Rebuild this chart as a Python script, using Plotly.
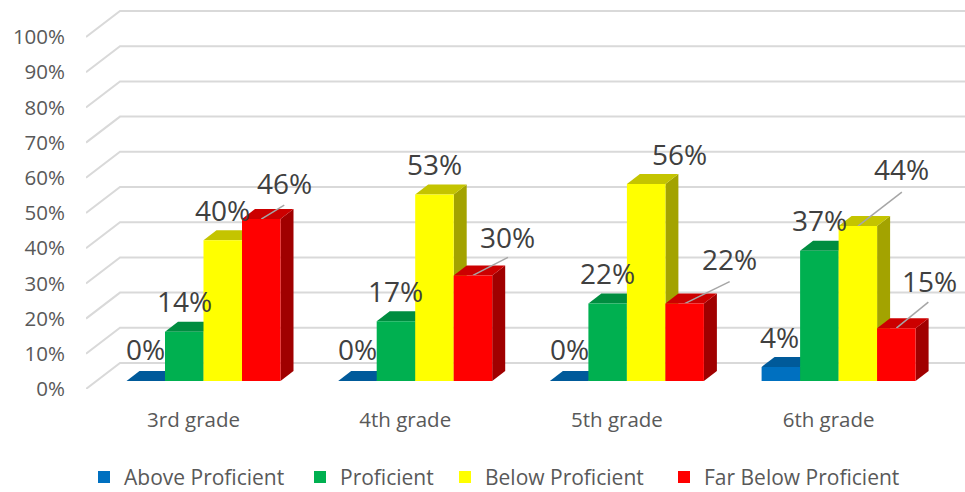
import plotly.graph_objects as go

categories = ["3rd grade", "4th grade", "5th grade", "6th grade"]
series_names = ["Above Proficient", "Proficient", "Below Proficient", "Far Below Proficient"]
above_proficient = [0, 0, 0, 4]
proficient = [14, 17, 22, 37]
below_proficient = [40, 53, 56, 44]
far_below_proficient = [46, 30, 22, 15]
y_ticks = [0, 10, 20, 30, 40, 50, 60, 70, 80, 90, 100]
y_tick_labels = ["0%", "10%", "20%", "30%", "40%", "50%", "60%", "70%", "80%", "90%", "100%"]

all_series = [above_proficient, proficient, below_proficient, far_below_proficient]
front_colors = ["#0070c0", "#00b050", "#ffff00", "#ff0000"]
top_colors = ["#005a9a", "#008d40", "#c4c400", "#cc0000"]
side_colors = ["#00467a", "#006e32", "#a3a300", "#a00000"]

# layout scale of the fake-3D projection
W, H = 965, 492
PX_X = 211.7          # pixels per category
PX_Y = 3.52           # pixels per percent
M_L, M_T, M_B = 86, 0, 103
X0_PX = 193.5         # pixel of category 0 on the axis
X_MIN = (M_L - X0_PX) / PX_X
X_MAX = (W - X0_PX) / PX_X
Y_MAX = (H - M_B - M_T) / PX_Y
BAR_SHIFT_Y = 8 / PX_Y      # bars stand this far behind the front of the floor
BAR_SHIFT_X = 10 / PX_X
BAR_W = 38.5 / PX_X
DEPTH_X, DEPTH_Y = 13 / PX_X, 10 / PX_Y
WALL_X, WALL_Y = 34 / PX_X, 26 / PX_Y

# label offsets in pixels from the top centre of each bar (series, then category)
label_dx = [[0, 0, 0, -1], [0, 0, 0, 0], [0, 0, 33, 44], [23, 35, 45, 33]]
label_dy = [[-32, -32, -32, -30], [-31, -30, -31, -31], [-30, -30, -30, -57], [-36, -38, -45, -47]]
# leader lines: (series, category, dx, dy) in pixels
leaders = [(3, 0, 23, -14), (3, 1, 35, -18), (3, 2, 45, -22), (2, 3, 44, -34), (3, 3, 32, -26)]
# left edge in pixels of each legend entry
legend_left_px = [84, 300, 445, 664]
LEGEND_IDS = ["legend", "legend2", "legend3", "legend4"]

fig = go.Figure()

# back wall gridlines
for v in y_ticks:
    fig.add_trace(go.Scatter(
        x=[X_MIN, X_MIN + WALL_X, X_MAX], y=[v, v + WALL_Y, v + WALL_Y],
        mode="lines", line=dict(color="#d9d9d9", width=2),
        showlegend=False, hoverinfo="skip"))


def bar_left(cat, s):
    return cat + BAR_SHIFT_X + (s - 2) * BAR_W


# side and top faces, painted behind the front faces
for s, values in enumerate(all_series):
    for c, v in enumerate(values):
        x0 = bar_left(c, s)
        x1 = x0 + BAR_W
        b = BAR_SHIFT_Y  # bar value v sits at v + BAR_SHIFT_Y on the wall axis
        fig.add_trace(go.Scatter(
            x=[x1, x1 + DEPTH_X, x1 + DEPTH_X, x1, x1],
            y=[b, b + DEPTH_Y, b + v + DEPTH_Y, b + v, b],
            mode="lines", fill="toself", fillcolor=side_colors[s],
            line=dict(width=0), showlegend=False, hoverinfo="skip"))
        fig.add_trace(go.Scatter(
            x=[x0, x1, x1 + DEPTH_X, x0 + DEPTH_X, x0],
            y=[b + v, b + v, b + v + DEPTH_Y, b + v + DEPTH_Y, b + v],
            mode="lines", fill="toself", fillcolor=top_colors[s],
            line=dict(width=0), showlegend=False, hoverinfo="skip"))

# leader lines
for s, c, dx, dy in leaders:
    cx = bar_left(c, s) + BAR_W / 2
    v = all_series[s][c] + BAR_SHIFT_Y
    fig.add_trace(go.Scatter(
        x=[cx, cx + dx / PX_X], y=[v, v - dy / PX_Y],
        mode="lines", line=dict(color="#a6a6a6", width=1.5),
        showlegend=False, hoverinfo="skip"))

# front faces: real bars
xs = [i + BAR_SHIFT_X for i in range(len(categories))]
for s, values in enumerate(all_series):
    fig.add_trace(go.Bar(
        x=xs, y=values, name=series_names[s], yaxis="y2", legend=LEGEND_IDS[s],
        marker=dict(color=front_colors[s], line=dict(width=0))))

annotations = []
for s, values in enumerate(all_series):
    for c, v in enumerate(values):
        annotations.append(dict(
            x=bar_left(c, s) + BAR_W / 2, y=v, xref="x", yref="y2",
            text=f"{v}%", showarrow=False, xanchor="center", yanchor="middle",
            xshift=label_dx[s][c], yshift=-label_dy[s][c],
            font=dict(family="Open Sans", size=28, color="#404040")))

legend_layout = {
    lid: dict(orientation="h", x=(px - M_L) / (W - M_L), xanchor="left", y=-0.227, yanchor="middle",
              bgcolor="rgba(0,0,0,0)", font=dict(size=21, color="#595959"), itemclick=False)
    for lid, px in zip(LEGEND_IDS, legend_left_px)
}

fig.update_layout(
    width=W, height=H,
    margin=dict(l=M_L, r=0, t=M_T, b=M_B, autoexpand=False),
    paper_bgcolor="white", plot_bgcolor="white",
    barmode="group", bargap=1 - 4 * BAR_W, bargroupgap=0,
    font=dict(family="Open Sans", color="#595959"),
    xaxis=dict(range=[X_MIN, X_MAX], tickvals=list(range(len(categories))), ticktext=categories,
               showgrid=False, zeroline=False, showline=False, ticks="",
               ticklabelstandoff=16, tickfont=dict(size=20.5, color="#595959")),
    yaxis=dict(range=[0, Y_MAX], tickvals=y_ticks, ticktext=y_tick_labels,
               showgrid=False, zeroline=False, showline=False, ticks="",
               ticklabelstandoff=20, tickfont=dict(size=20.5, color="#595959")),
    yaxis2=dict(range=[-BAR_SHIFT_Y, Y_MAX - BAR_SHIFT_Y], overlaying="y", visible=False),
    annotations=annotations,
    **legend_layout,
)

fig.write_html("out.html", config=dict(displayModeBar=False),
               post_script="document.body.style.margin='0';")
